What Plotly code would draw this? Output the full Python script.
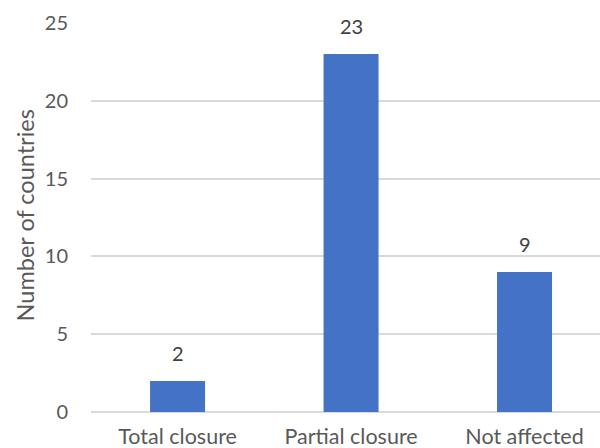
import plotly.graph_objects as go

# Countries grouped by the status of their school closures
categories = ["Total closure", "Partial closure", "Not affected"]
counts = [2, 23, 9]
y_ticks = [0, 5, 10, 15, 20, 25]

BAR_COLOR = "#4472C4"
GRID_COLOR = "#D9D9D9"
TEXT_COLOR = "#595959"
FONT = "Lato, 'Liberation Sans', sans-serif"

positions = list(range(len(categories)))

fig = go.Figure(
    go.Bar(
        x=positions,
        y=counts,
        width=0.317,
        marker=dict(color=BAR_COLOR, line=dict(width=0)),
        hoverinfo="skip",
    )
)

# Value labels sitting above each bar
for pos, val in zip(positions, counts):
    fig.add_annotation(
        x=pos, y=val, text=str(val), showarrow=False,
        xref="x", yref="y", yanchor="bottom", yshift=14,
        font=dict(family=FONT, size=20, color="#404040"),
    )

# Vertical axis title
fig.add_annotation(
    text="Number of countries", textangle=-90, showarrow=False,
    xref="paper", yref="paper", x=-0.13, y=0.505,
    xanchor="center", yanchor="middle",
    font=dict(family=FONT, size=23.5, color=TEXT_COLOR),
)

fig.update_layout(
    width=600, height=448,
    margin=dict(l=91, r=0, t=23, b=36),
    paper_bgcolor="white", plot_bgcolor="white",
    showlegend=False,
    font=dict(family=FONT, size=20, color=TEXT_COLOR),
    xaxis=dict(
        range=[-0.499, 2.435], automargin=False,
        tickvals=positions, ticktext=categories,
        showgrid=False, zeroline=False, showline=False,
        ticks="", ticklabelstandoff=9,
        tickfont=dict(family=FONT, size=21.5, color=TEXT_COLOR),
    ),
    yaxis=dict(
        range=[0, 25], tickvals=y_ticks, automargin=False,
        showgrid=True, gridcolor=GRID_COLOR, gridwidth=1.5,
        zeroline=True, zerolinecolor=GRID_COLOR, zerolinewidth=1.5,
        showline=False, ticks="", ticklabelstandoff=22,
        tickfont=dict(family=FONT, size=20, color=TEXT_COLOR),
    ),
)

fig.write_html("out.html")
